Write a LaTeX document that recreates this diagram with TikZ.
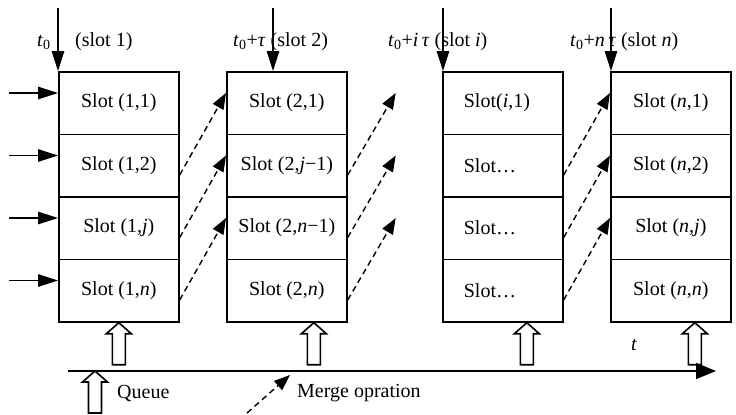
\documentclass[tikz,border=0pt]{standalone}
\usepackage{fontspec}
\setmainfont{Liberation Serif}
\usetikzlibrary{arrows.meta,calc}
\begin{document}
\begin{tikzpicture}[x=1bp,y=-1bp,
  font=\fontsize{20bp}{24bp}\selectfont,
  cell/.style={draw,line width=1.7bp,minimum width=120bp,minimum height=62.5bp,inner sep=0pt,anchor=north west},
  cellL/.style={cell,text width=78bp,inner xsep=21bp,align=left},
  lbl/.style={inner sep=0pt,anchor=west},
  feed/.style={line width=1.2bp,-{Triangle[length=20bp,width=12.5bp]}},
  merge/.style={line width=1.4bp,dash pattern=on 6bp off 4bp,-{Triangle[length=16bp,width=12bp]}},
  hollow/.pic={\draw[line width=1.6bp,fill=white] (-6.5,42)--(-6.5,11)--(-12.5,11)--(0,0)--(12.5,11)--(6.5,11)--(6.5,42)--cycle;}
]
\useasboundingbox[fill=white] (0,0) rectangle (736,414);

% column 1
\node[cell] (c11) at (58,71) {Slot (1,1)};
\node[cell] (c12) at (58,133.5) {Slot (1,2)};
\node[cell] (c13) at (58,196) {Slot (1,\textit{j})};
\node[cell] (c14) at (58,258.5) {Slot (1,\textit{n})};
% column 2
\node[cell] (c21) at (226,71) {Slot (2,1)};
\node[cell] (c22) at (226,133.5) {Slot (2,\textit{j}−1)};
\node[cell] (c23) at (226,196) {Slot (2,\textit{n}−1)};
\node[cell] (c24) at (226,258.5) {Slot (2,\textit{n})};
% column 3
\node[cellL] (c31) at (442,71) {Slot(\textit{i},1)};
\node[cellL] (c32) at (442,133.5) {Slot…};
\node[cellL] (c33) at (442,196) {Slot…};
\node[cellL] (c34) at (442,258.5) {Slot…};
% column 4
\node[cell] (c41) at (610,71) {Slot (\textit{n},1)};
\node[cell] (c42) at (610,133.5) {Slot (\textit{n},2)};
\node[cell] (c43) at (610,196) {Slot (\textit{n},\textit{j})};
\node[cell] (c44) at (610,258.5) {Slot (\textit{n},\textit{n})};

% top labels
\node[lbl] (l1a) at (37,42) {\textit{t}\textsubscript{0}};
\node[lbl] (l1b) at (75,42) {(slot 1)};
\node[lbl] (l2) at (233,42) {\textit{t}\textsubscript{0}+\textit{τ} (slot 2)};
\node[lbl] (l3) at (388,42) {\textit{t}\textsubscript{0}+\textit{i\,τ} (slot \textit{i})};
\node[lbl] (l4) at (570,42) {\textit{t}\textsubscript{0}+\textit{n\,τ} (slot \textit{n})};

% top arrows
\coordinate (top1) at (58,8);
\coordinate (top2) at (273,8);
\coordinate (top3) at (443,8);
\coordinate (top4) at (611,8);
\draw[feed] (top1) -- (top1 |- c11.north);
\draw[feed] (top2) -- (top2 |- c21.north);
\draw[feed] (top3) -- (top3 |- c31.north);
\draw[feed] (top4) -- (top4 |- c41.north);

% input arrows
\foreach \r in {1,2,3,4}{
  \coordinate (in\r) at ($(c1\r.north west)+(-49,22)$);
  \draw[feed] (in\r) -- (in\r -| c1\r.west);
}

% merge arrows
\foreach \r/\p in {2/1,3/2,4/3}{
  \draw[merge] ($(c1\r.north east)+(0,41.5)$) -- ($(c2\p.north west)+(0,22)$);
  \coordinate (f\p) at ($(c2\r.north east)+(48,-40.5)$);
  \draw[merge] ($(c2\r.north east)+(0,41.5)$) -- (f\p);
  \draw[merge] ($(c3\r.north east)+(0,41.5)$) -- ($(c4\p.north west)+(0,22)$);
}

% queue arrows
\pic at (c14.south) {hollow};
\pic at ($(c24.south)+(27,0)$) {hollow};
\pic at ($(c34.south)+(24,0)$) {hollow};
\pic at ($(c44.south)+(24,0)$) {hollow};

% time axis
\coordinate (ax0) at (68,371);
\coordinate (ax1) at (716,371);
\draw[line width=1.4bp,-{Triangle[length=20bp,width=16bp]}] (ax0) -- (ax1);
\node[inner sep=0pt] (tl) at (634,345) {\textit{t}};

% legend
\pic at (95,371) {hollow};
\node[lbl] (lq) at (117,393) {Queue};
\coordinate (lm0) at (247,413);
\coordinate (lm1) at (290,375);
\draw[merge] (lm0) -- (lm1);
\node[lbl] (lm) at (297,393) {Merge opration};
\end{tikzpicture}
\end{document}
